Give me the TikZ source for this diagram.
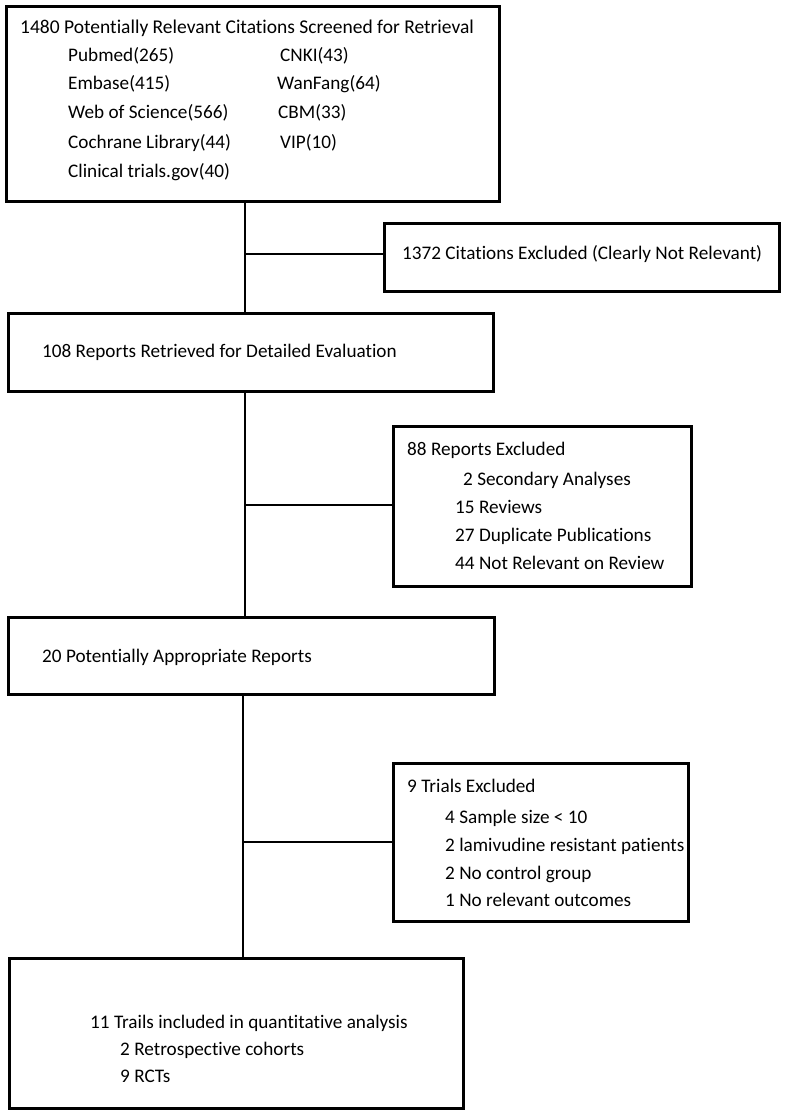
\documentclass[tikz,border=0pt]{standalone}
\usepackage{fontspec}
\setmainfont{Carlito}[Ligatures={NoCommon}]
\begin{document}
\begin{tikzpicture}[x=1pt,y=-1pt,
  box/.style={draw=black,line width=2.8pt,fill=none,inner sep=0pt},
  conn/.style={draw=black,line width=2.5pt},
  txt/.style={anchor=mid west,inner sep=0pt,font=\fontsize{19.2}{23}\selectfont}]
\useasboundingbox (0,0) rectangle (787,1114);
% boxes
\node[box,minimum width=493pt,minimum height=195pt,anchor=north west] (b1) at (5,5) {};
\node[box,minimum width=395pt,minimum height=68pt,anchor=north west] (b2) at (383,222) {};
\node[box,minimum width=485pt,minimum height=78pt,anchor=north west] (b3) at (7,312) {};
\node[box,minimum width=298pt,minimum height=160pt,anchor=north west] (b4) at (392,425) {};
\node[box,minimum width=486pt,minimum height=77pt,anchor=north west] (b5) at (7,616) {};
\node[box,minimum width=295pt,minimum height=158pt,anchor=north west] (b6) at (392,762) {};
\node[box,minimum width=454pt,minimum height=150pt,anchor=north west] (b7) at (8,957) {};
% texts box 1
\node[txt,font=\fontsize{19.5}{23}\selectfont] (t1) at (20,31) {1480 Potentially Relevant Citations Screened for Retrieval};
\node[txt] (t1a) at (68,59) {Pubmed(265)};
\node[txt] (t1b) at (68,87) {Embase(415)};
\node[txt] (t1c) at (68,116) {Web of Science(566)};
\node[txt] (t1d) at (68,146) {Cochrane Library(44)};
\node[txt] (t1e) at (68,175) {Clinical trials.gov(40)};
\node[txt] (t1f) at (280,59) {CNKI(43)};
\node[txt] (t1g) at (277,87) {WanFang(64)};
\node[txt] (t1h) at (278,116) {CBM(33)};
\node[txt] (t1i) at (280,146) {VIP(10)};
% box 2
\node[txt] (t2) at (402,257) {1372 Citations Excluded (Clearly Not Relevant)};
% box 3
\node[txt] (t3) at (42,355) {108 Reports Retrieved for Detailed Evaluation};
% box 4
\node[txt] (t4) at (407,453) {88 Reports Excluded};
\node[txt] (t4a) at (463,483) {2 Secondary Analyses};
\node[txt] (t4b) at (455,511) {15 Reviews};
\node[txt] (t4c) at (455,539) {27 Duplicate Publications};
\node[txt] (t4d) at (455,567) {44 Not Relevant on Review};
% box 5
\node[txt] (t5) at (42,660) {20 Potentially Appropriate Reports};
% box 6
\node[txt] (t6) at (407,790) {9 Trials Excluded};
\node[txt] (t6a) at (445,821) {4 Sample size < 10};
\node[txt] (t6b) at (445,849) {2 lamivudine resistant patients};
\node[txt] (t6c) at (445,877) {2 No control group};
\node[txt] (t6d) at (445,904) {1 No relevant outcomes};
% box 7
\node[txt] (t7) at (90,1026) {11 Trails included in quantitative analysis};
\node[txt] (t7a) at (120,1053) {2 Retrospective cohorts};
\node[txt] (t7b) at (120,1080) {9 RCTs};
% connectors
\coordinate (j1) at (245,254);
\coordinate (j2) at (245,505);
\coordinate (j3) at (243,842);
\draw[conn] (b1.south -| j1) -- (b3.north -| j1);
\draw[conn] (j1) -- (b2.west |- j1);
\draw[conn] (b3.south -| j2) -- (b5.north -| j2);
\draw[conn] (j2) -- (b4.west |- j2);
\draw[conn] (b5.south -| j3) -- (b7.north -| j3);
\draw[conn] (j3) -- (b6.west |- j3);
\end{tikzpicture}
\end{document}
